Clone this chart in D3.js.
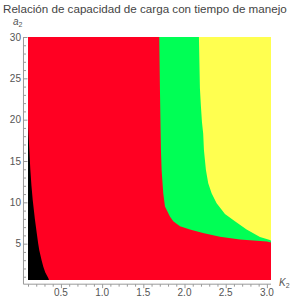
<!DOCTYPE html>
<html>
<head>
<meta charset="utf-8">
<script src="https://cdn.jsdelivr.net/npm/d3@7"></script>
<style>
  body { margin: 0; background: #fff; }
  svg { display: block; font-family: "Liberation Sans", Arial, sans-serif; }
</style>
</head>
<body>
<div id="chart"></div>
<script>
// ranges of the plotted region
var k2Range = [0.1, 3.05];
var a2Range = [0.6, 30];

var k2Ticks = [0.5, 1.0, 1.5, 2.0, 2.5, 3.0];
var a2Ticks = [5, 10, 15, 20, 25, 30];

// black region: K2 below this edge
var blackA2 = [19.8, 19, 18, 16.3, 14, 12, 10.3, 8, 6.3, 5, 4.2, 3, 2.2, 1.5, 0.85, 0.6];
var blackK2 = [0.1, 0.102, 0.107, 0.116, 0.128, 0.142, 0.157, 0.183, 0.206, 0.224, 0.237, 0.265, 0.286, 0.31, 0.346, 0.355];

// green region: right of this edge
var greenA2 = [30, 23.6, 18.5, 16.3, 13.9, 11.1, 9.5, 8.3, 7.7, 7.1, 6.7, 6.3, 5.85, 5.5, 5.25, 5.15];
var greenK2 = [1.693, 1.702, 1.71, 1.714, 1.722, 1.742, 1.763, 1.823, 1.863, 1.945, 2.066, 2.224, 2.43, 2.673, 3.0, 3.05];

// yellow region: right of this edge
var yellowA2 = [30, 23.8, 21.5, 19.7, 18.3, 16.3, 13.9, 12.3, 11.1, 9.9, 8.6, 7.7, 6.7, 5.8, 5.45, 5.35];
var yellowK2 = [2.175, 2.187, 2.2, 2.212, 2.227, 2.236, 2.26, 2.288, 2.329, 2.39, 2.491, 2.612, 2.754, 2.916, 3.037, 3.05];

var cfg = { width: 291, height: 298 };

var x = d3.scaleLinear().domain(k2Range).range([28, 271]);
var y = d3.scaleLinear().domain([0, 30]).range([285, 37]);

var svg = d3.select("#chart").append("svg")
    .attr("width", cfg.width)
    .attr("height", cfg.height);

var title = svg.append("text")
    .attr("x", 3)
    .attr("y", 12.5)
    .attr("fill", "#444")
    .style("font-size", "12px")
    .text("Relación de capacidad de carga con tiempo de manejo");
// shrink the title so it spans the same width as in the picture
var tl = title.node().getComputedTextLength();
title.style("font-size", (12 * 284 / tl) + "px");

svg.append("clipPath").attr("id", "plotClip")
    .append("rect")
    .attr("x", x(k2Range[0]))
    .attr("y", y(a2Range[1]))
    .attr("width", x(k2Range[1]) - x(k2Range[0]))
    .attr("height", y(a2Range[0]) - y(a2Range[1]));

var plot = svg.append("g").attr("clip-path", "url(#plotClip)");

// red background region
plot.append("rect")
    .attr("x", x(k2Range[0]))
    .attr("y", y(a2Range[1]))
    .attr("width", x(k2Range[1]) - x(k2Range[0]))
    .attr("height", y(a2Range[0]) - y(a2Range[1]))
    .attr("fill", "#ff0022");

function zipEdge(a2s, k2s) {
    return a2s.map(function(a, i) { return { a2: a, k2: k2s[i] }; });
}

var leftArea = d3.area()
    .y(function(d) { return y(d.a2); })
    .x0(x(k2Range[0]))
    .x1(function(d) { return x(d.k2); });

var rightArea = d3.area()
    .y(function(d) { return y(d.a2); })
    .x0(function(d) { return x(d.k2); })
    .x1(x(k2Range[1]) + 2);

plot.append("path")
    .datum(zipEdge(blackA2, blackK2))
    .attr("d", leftArea)
    .attr("fill", "#000");

plot.append("path")
    .datum(zipEdge(greenA2, greenK2))
    .attr("d", rightArea)
    .attr("fill", "#00ff55");

plot.append("path")
    .datum(zipEdge(yellowA2, yellowK2))
    .attr("d", rightArea)
    .attr("fill", "#ffff50");

// axes, Mathematica style
var axisColor = "#999";
var x0 = x(0.045), y0 = y(0.1);

var xAxis = d3.axisBottom(x)
    .tickValues(d3.range(1, 31).map(function(i) { return i / 10; }))
    .tickSizeInner(2.5)
    .tickSizeOuter(0)
    .tickFormat(function(d) { return ""; });

var gx = svg.append("g")
    .attr("transform", "translate(0," + y0 + ")")
    .call(xAxis);
gx.select(".domain").remove();
gx.append("line")
    .attr("x1", x0).attr("x2", x(3.05))
    .attr("stroke", axisColor);
gx.selectAll(".tick line").attr("stroke", axisColor)
    .attr("y2", function(d) { return k2Ticks.some(function(t) { return Math.abs(t - d) < 1e-6; }) ? 4 : 2.5; });

gx.selectAll(".lab")
    .data(k2Ticks)
    .enter().append("text")
    .attr("x", function(d) { return x(d); })
    .attr("y", 11.5)
    .attr("text-anchor", "middle")
    .attr("fill", "#555")
    .style("font-size", "10px")
    .text(function(d) { return d.toFixed(1); });

var yAxis = d3.axisRight(y)
    .tickValues(d3.range(1, 31))
    .tickSizeInner(2.5)
    .tickSizeOuter(0)
    .tickFormat(function(d) { return ""; });

var gy = svg.append("g")
    .attr("transform", "translate(" + x0 + ",0)")
    .call(yAxis);
gy.select(".domain").remove();
gy.append("line")
    .attr("y1", y0).attr("y2", y(30))
    .attr("stroke", axisColor);
gy.selectAll(".tick line").attr("stroke", axisColor)
    .attr("x2", function(d) { return a2Ticks.indexOf(d) >= 0 ? 4 : 2.5; });

gy.selectAll(".lab")
    .data(a2Ticks)
    .enter().append("text")
    .attr("x", -2.5)
    .attr("y", function(d) { return y(d); })
    .attr("dy", "0.35em")
    .attr("text-anchor", "end")
    .attr("fill", "#555")
    .style("font-size", "10px")
    .text(function(d) { return d; });

// axis labels
var a2Label = svg.append("text")
    .attr("x", 13)
    .attr("y", 25)
    .attr("fill", "#555")
    .style("font-size", "10px");
a2Label.append("tspan").style("font-style", "italic").text("a");
a2Label.append("tspan").attr("dy", 2).style("font-size", "7px").text("2");

var k2Label = svg.append("text")
    .attr("x", 279)
    .attr("y", 286)
    .attr("fill", "#555")
    .style("font-size", "10px");
k2Label.append("tspan").style("font-style", "italic").text("K");
k2Label.append("tspan").attr("dy", 2).style("font-size", "7px").text("2");
</script>
</body>
</html>
